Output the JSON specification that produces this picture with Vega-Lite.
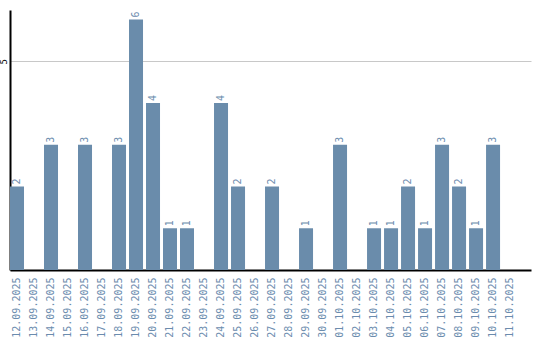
{
  "$schema": "https://vega.github.io/schema/vega-lite/v6.json",
  "autosize": "none",
  "width": 521,
  "height": 260,
  "padding": {"left": 10, "top": 10, "right": 9, "bottom": 70},
  "background": "white",
  "config": {"view": {"stroke": null}},
  "data": {"values": [
    {"date": "12.09.2025", "count": 2},
    {"date": "13.09.2025", "count": 0},
    {"date": "14.09.2025", "count": 3},
    {"date": "15.09.2025", "count": 0},
    {"date": "16.09.2025", "count": 3},
    {"date": "17.09.2025", "count": 0},
    {"date": "18.09.2025", "count": 3},
    {"date": "19.09.2025", "count": 6},
    {"date": "20.09.2025", "count": 4},
    {"date": "21.09.2025", "count": 1},
    {"date": "22.09.2025", "count": 1},
    {"date": "23.09.2025", "count": 0},
    {"date": "24.09.2025", "count": 4},
    {"date": "25.09.2025", "count": 2},
    {"date": "26.09.2025", "count": 0},
    {"date": "27.09.2025", "count": 2},
    {"date": "28.09.2025", "count": 0},
    {"date": "29.09.2025", "count": 1},
    {"date": "30.09.2025", "count": 0},
    {"date": "01.10.2025", "count": 3},
    {"date": "02.10.2025", "count": 0},
    {"date": "03.10.2025", "count": 1},
    {"date": "04.10.2025", "count": 1},
    {"date": "05.10.2025", "count": 2},
    {"date": "06.10.2025", "count": 1},
    {"date": "07.10.2025", "count": 3},
    {"date": "08.10.2025", "count": 2},
    {"date": "09.10.2025", "count": 1},
    {"date": "10.10.2025", "count": 3},
    {"date": "11.10.2025", "count": 0}
  ]},
  "encoding": {
    "x": {
      "field": "date", "type": "ordinal", "sort": null,
      "scale": {"paddingInner": 0.176, "paddingOuter": 0.41, "align": 0},
      "axis": {
        "title": null, "labelAngle": -90, "ticks": false, "labelPadding": 7,
        "labelFont": "DejaVu Sans Mono", "labelFontSize": 10, "labelColor": "#6b8cae",
        "domainColor": "#000000", "domainWidth": 2, "grid": false
      }
    },
    "y": {
      "field": "count", "type": "quantitative",
      "scale": {"domain": [0, 6.23], "nice": false},
      "axis": {
        "title": null, "values": [5], "ticks": false, "labelAngle": -90,
        "labelFont": "DejaVu Sans Mono", "labelFontSize": 9, "labelColor": "#000000",
        "labelPadding": 2, "labelAlign": "center", "labelBaseline": "bottom",
        "domainColor": "#000000", "domainWidth": 2,
        "grid": true, "gridColor": "#c8c8c8", "gridWidth": 1
      }
    }
  },
  "layer": [
    {"mark": {"type": "bar", "color": "#6a8cab"}},
    {
      "transform": [{"filter": "datum.count > 0"}],
      "mark": {"type": "text", "angle": -90, "align": "left", "baseline": "middle", "dx": 2,
               "font": "DejaVu Sans Mono", "fontSize": 10, "color": "#6b8cae"},
      "encoding": {"text": {"field": "count", "type": "quantitative"}}
    }
  ]
}
